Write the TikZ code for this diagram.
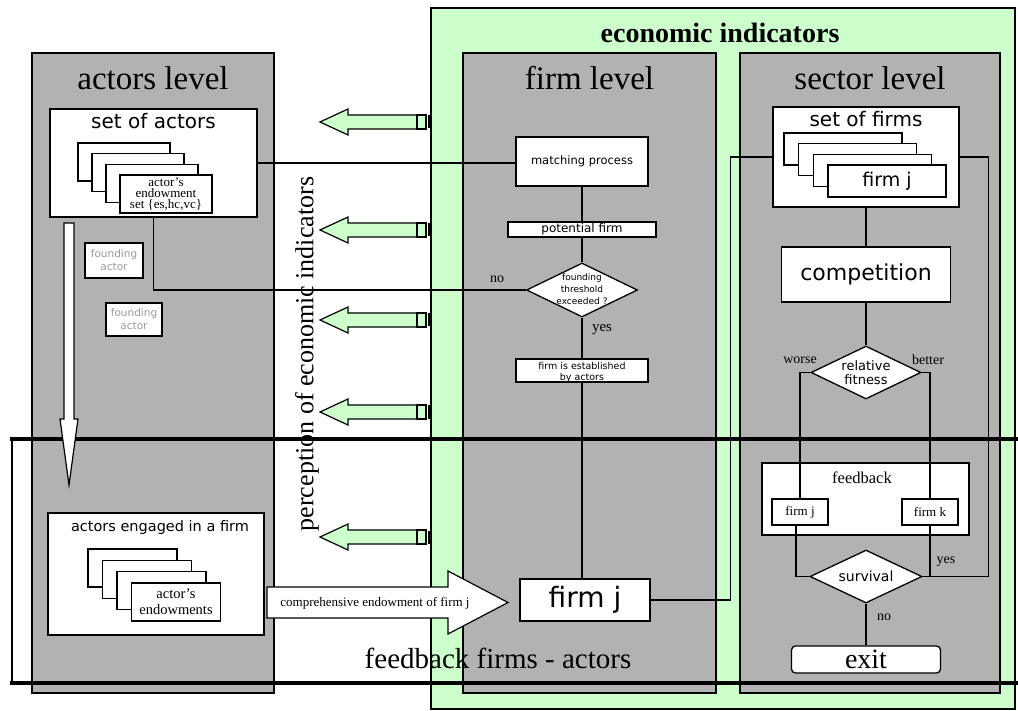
\documentclass[tikz,border=0pt]{standalone}
\usepackage{fontspec}
\setmainfont{Liberation Serif}
\newfontfamily\dv{DejaVu Sans}
\usetikzlibrary{shapes.geometric}
\definecolor{ecogreen}{HTML}{CCFFCC}
\definecolor{lvgray}{HTML}{B2B2B2}
\definecolor{fagray}{HTML}{999999}
\newcommand{\myfs}[2]{\fontsize{#1}{#2}\selectfont}
\begin{document}
\begin{tikzpicture}[x=1pt,y=-1pt,
  panel/.style={draw, line width=1.3pt, fill=lvgray, inner sep=0pt},
  wbox/.style={draw, line width=1.3pt, fill=white, inner sep=0pt},
  dia/.style={draw, diamond, line width=1.3pt, fill=white, inner sep=0pt},
  conn/.style={line width=1.3pt},
  lbl/.style={inner sep=0pt},
  ttl/.style={inner sep=0pt, font=\myfs{33}{36}},
  rule/.style={line width=4pt},
  garrow/.style={draw, line width=1.2pt, fill=ecogreen},
  warrow/.style={draw, line width=1.2pt, fill=white},
]
\useasboundingbox (0,0) rectangle (1018,711);

% economic indicators area
\node[draw, line width=1.2pt, fill=ecogreen, inner sep=0pt,
      minimum width=584pt, minimum height=701pt] (eco) at (723,358.5) {};
\node[lbl, font=\bfseries\myfs{28}{30}] (ecot) at (720,33) {economic indicators};

% level panels
\node[panel, minimum width=242pt, minimum height=640pt] (actl) at (153,373) {};
\node[panel, minimum width=253pt, minimum height=640pt] (firml) at (589.5,373) {};
\node[panel, minimum width=260pt, minimum height=640pt] (secl) at (870,373) {};
\node[ttl] (actlt) at (153,78) {actors level};
\node[ttl] (firmlt) at (589.5,78) {firm level};
\node[ttl] (seclt) at (870,78) {sector level};

% feedback frame
\draw[line width=1.2pt] (12,439) -- (12,683);
\draw[rule] (10,439) -- (1018,439);
\draw[rule] (10,683) -- (1018,683);

% actors level
\node[wbox, minimum width=207pt, minimum height=108pt] (soa) at (153.5,163) {};
\node[lbl, font=\dv\myfs{20}{22}] (soat) at (153.5,121) {set of actors};
\foreach \k in {0,1,2,3}
  \node[wbox, minimum width=92pt, minimum height=38pt] (ac\k) at ({124+14*\k},{162+10.7*\k}) {};
\node[lbl, font=\myfs{13}{11}, align=center] (act) at (ac3) {actor's\\endowment\\set \{es,hc,vc\}};

\node[wbox, minimum width=58pt, minimum height=35pt] (fa1) at (114,260.5) {};
\node[lbl, font=\dv\myfs{10.5}{13}, text=fagray, align=center] (fa1t) at (fa1) {founding\\actor};
\node[wbox, minimum width=56pt, minimum height=33pt] (fa2) at (134,319.5) {};
\node[lbl, font=\dv\myfs{10.5}{13}, text=fagray, align=center] (fa2t) at (fa2) {founding\\actor};

\node[wbox, minimum width=216pt, minimum height=122pt] (aef) at (156,574) {};
\node[lbl, font=\dv\myfs{14.5}{16}] (aeft) at (160,527) {actors engaged in a firm};
\foreach \k in {0,1,2,3}
  \node[wbox, minimum width=89pt, minimum height=38pt] (ae\k) at ({132.5+14.5*\k},{568+11.3*\k}) {};
\node[lbl, font=\myfs{14.5}{16}, align=center] (aet) at (ae3) {actor's\\endowments};

% firm level
\node[wbox, minimum width=132pt, minimum height=49pt] (mp) at (582,161.5) {};
\node[lbl, font=\dv\myfs{11.5}{13}] (mpt) at (mp) {matching process};
\node[wbox, minimum width=148pt, minimum height=15pt] (pf) at (582,229.5) {};
\node[lbl, font=\dv\myfs{12}{13}] (pft) at (pf) {potential firm};
\node[dia, minimum width=111pt, minimum height=54pt] (ft) at (582,290) {};
\node[lbl, font=\dv\myfs{9}{12}, align=center] (ftt) at (582,289) {founding\\threshold\\exceeded ?};
\node[wbox, minimum width=132pt, minimum height=23pt] (est) at (582,370.5) {};
\node[lbl, font=\dv\myfs{9.5}{11.5}, align=center] (estt) at (582,372.5) {firm is established\\by actors};
\node[wbox, minimum width=130pt, minimum height=42pt] (firmj) at (585,600) {};
\node[lbl, font=\dv\myfs{28}{30}] (firmjt) at (firmj) {firm j};

% sector level
\node[wbox, minimum width=186pt, minimum height=100pt] (sof) at (866,157) {};
\node[lbl, font=\dv\myfs{20}{22}] (soft) at (866,119) {set of firms};
\foreach \k in {0,1,2,3}
  \node[wbox, minimum width=118pt, minimum height=32pt] (fc\k) at ({843+14.7*\k},{149+10.7*\k}) {};
\node[lbl, font=\dv\myfs{19}{21}] (fct) at (fc3) {firm j};
\node[wbox, minimum width=169pt, minimum height=55pt] (comp) at (866,274.5) {};
\node[lbl, font=\dv\myfs{22}{24}] (compt) at (comp) {competition};
\node[dia, minimum width=110pt, minimum height=53pt] (rf) at (866,372.5) {};
\node[lbl, font=\dv\myfs{13}{14}, align=center] (rft) at (866,373) {relative\\fitness};
\node[wbox, minimum width=207pt, minimum height=72pt] (fb) at (865.5,499) {};
\node[lbl, font=\myfs{16.5}{18}] (fbt) at (862,478) {feedback};
\node[wbox, minimum width=56pt, minimum height=26pt] (fj) at (800,512) {};
\node[lbl, font=\myfs{13}{15}] (fjt) at (fj) {firm j};
\node[wbox, minimum width=56pt, minimum height=26pt] (fk) at (930,512) {};
\node[lbl, font=\myfs{13}{15}] (fkt) at (fk) {firm k};
\node[dia, minimum width=112pt, minimum height=53pt] (sv) at (866,576.5) {};
\node[lbl, font=\dv\myfs{14}{16}] (svt) at (sv) {survival};
\node[wbox, rounded corners=4pt, minimum width=149pt, minimum height=27pt] (exit) at (866,659.5) {};
\node[lbl, font=\myfs{28}{30}] (exitt) at (exit) {exit};

% connectors
\draw[conn] (soa.east) -- (soa.east -| mp.west);
\draw[conn] (soa.south) |- (ft.west);
\draw[conn] (mp.south) -- (pf.north);
\draw[conn] (pf.south) -- (ft.north);
\draw[conn] (ft.south) -- (est.north);
\draw[conn] (est.south) -- (est.south |- firmj.north);
\draw[conn] (firmj.east) -- ++(80,0) |- (sof.west);
\draw[conn] (sof.south) -- (comp.north);
\draw[conn] (comp.south) -- (rf.north);
\draw[conn] (rf.west) -| (fj.north);
\draw[conn] (rf.east) -| (fk.north);
\draw[conn] ([xshift=-4pt]fj.south) |- (sv.west);
\draw[conn] (fk.south) |- (sv.east);
\draw[conn] (sof.east) -- ++(29,0) |- (sv.east);
\draw[conn] (sv.south) -- (exit.north);

% connector labels
\node[lbl, font=\myfs{14}{16}] (nol) at (497,279) {no};
\node[lbl, font=\myfs{15}{17}] (yesl) at (602,330) {yes};
\node[lbl, font=\myfs{14}{16}] (worl) at (800,360) {worse};
\node[lbl, font=\myfs{14}{16}] (betl) at (928,360) {better};
\node[lbl, font=\myfs{14}{16}] (yes2l) at (946,562) {yes};
\node[lbl, font=\myfs{14}{16}] (no2l) at (884,617) {no};

% perception arrows
\foreach \c in {122,230,320,412,537} {
  \path[garrow] (320,\c) -- (348,{\c-13}) -- (348,{\c-7}) -- (417,{\c-7})
     -- (417,{\c+7}) -- (348,{\c+7}) -- (348,{\c+13}) -- cycle;
  \path[garrow] (417,{\c-7}) rectangle (426,{\c+7});
  \draw[line width=3pt] (429.5,{\c-6.5}) -- (429.5,{\c+6.5});
}
\node[lbl, rotate=90, font=\myfs{26}{28}] (perc) at (307,354) {perception of economic indicators};

% white arrows
\path[warrow] (64,223) -- (74,223) -- (74,419) -- (78,419) -- (69,485) -- (60,419) -- (64,419) -- cycle;
\path[warrow] (267,587) -- (448,587) -- (448,571) -- (508,602.5) -- (448,634) -- (448,618) -- (267,618) -- cycle;
\node[lbl, font=\myfs{13}{15}] (cet) at (375,603) {comprehensive endowment of firm j};

\node[lbl, font=\myfs{29}{31}] (fbfa) at (498,658) {feedback firms - actors};
\end{tikzpicture}
\end{document}
